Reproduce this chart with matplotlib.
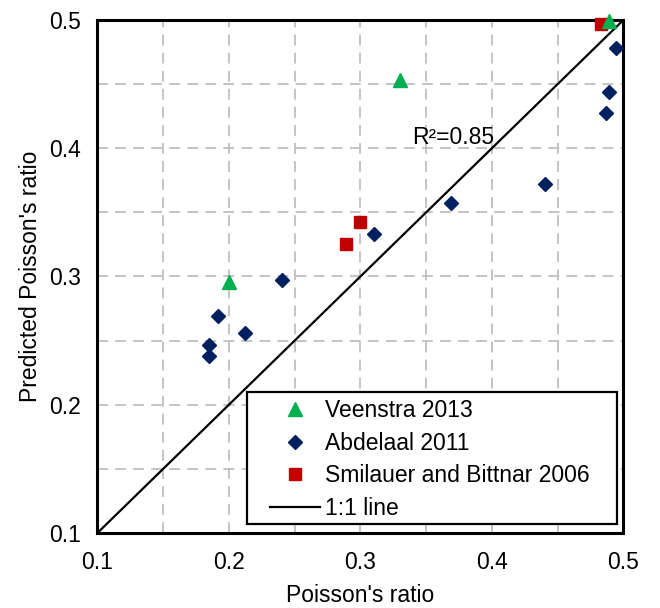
import matplotlib
matplotlib.use("Agg")
import matplotlib.pyplot as plt
from matplotlib.patches import Rectangle

plt.rcParams["font.family"] = ["Liberation Sans", "DejaVu Sans"]

# measured vs predicted Poisson's ratio
VEENSTRA_X = [0.200, 0.330, 0.489]
VEENSTRA_Y = [0.296, 0.453, 0.499]

ABDELAAL_X = [0.494, 0.489, 0.487, 0.440, 0.3685, 0.310, 0.240, 0.1915, 0.212, 0.1845, 0.1845]
ABDELAAL_Y = [0.478, 0.444, 0.4275, 0.372, 0.357, 0.333, 0.2975, 0.269, 0.256, 0.2466, 0.2383]

SMILAUER_X = [0.289, 0.300, 0.483]
SMILAUER_Y = [0.325, 0.3427, 0.497]

ONE_TO_ONE = [0.1, 0.5]
TICKS = [0.1, 0.2, 0.3, 0.4, 0.5]
GRID = [0.15, 0.2, 0.25, 0.3, 0.35, 0.4, 0.45]
R2_TEXT = "R²=0.85"

FS = 16.5

fig = plt.figure(figsize=(6.6, 6.08), dpi=100)
ax = fig.add_axes([0.1476, 0.1234, 0.797, 0.8438])

for g in GRID:
    ax.axvline(g, color="#bfbfbf", lw=1.3, ls=(0, (6, 4)), zorder=0)
    ax.axhline(g, color="#bfbfbf", lw=1.3, ls=(0, (6, 4)), zorder=0)

ax.plot(ONE_TO_ONE, ONE_TO_ONE, color="black", lw=1.6, label="1:1 line", zorder=2)

ax.plot(VEENSTRA_X, VEENSTRA_Y, ls="none", marker="^", ms=9.5, color="#00B050",
        label="Veenstra 2013", clip_on=False, zorder=4)
ax.plot(ABDELAAL_X, ABDELAAL_Y, ls="none", marker="D", ms=6.8, color="#002060",
        label="Abdelaal 2011", clip_on=False, zorder=3)
ax.plot(SMILAUER_X, SMILAUER_Y, ls="none", marker="s", ms=8.0, color="#C00000",
        label="Smilauer and Bittnar 2006", clip_on=False, zorder=3)

ax.text(0.339, 0.408, R2_TEXT, fontsize=FS, va="center", ha="left", zorder=5)

ax.set_xlim(0.1, 0.5)
ax.set_ylim(0.1, 0.5)
ax.set_xticks(TICKS)
ax.set_yticks(TICKS)
ax.set_xticklabels([f"{t:.1f}" for t in TICKS])
ax.set_yticklabels([f"{t:.1f}" for t in TICKS])
ax.tick_params(length=0, labelsize=FS)
ax.tick_params(axis="x", pad=13)
ax.tick_params(axis="y", pad=12)
for s in ax.spines.values():
    s.set_linewidth(2.2)

ax.set_xlabel("Poisson's ratio", fontsize=FS, labelpad=7)
ax.set_ylabel("Predicted Poisson's ratio", fontsize=FS, labelpad=5)

# legend box is drawn separately so it can be wider than the entries
frame = Rectangle((0.285, 0.0175), 0.702, 0.2575, transform=ax.transAxes,
                  facecolor="white", edgecolor="black", lw=1.6, zorder=5)
ax.add_patch(frame)

handles, labels = ax.get_legend_handles_labels()
order = [1, 2, 3, 0]
leg = ax.legend([handles[i] for i in order], [labels[i] for i in order],
                loc="lower left", bbox_to_anchor=(0.328, 0.026),
                fontsize=FS, frameon=False, handlelength=2.2, handletextpad=0.2,
                labelspacing=0.41, borderpad=0.0, borderaxespad=0)
leg.set_zorder(6)

fig.savefig("out.png", dpi=100)
